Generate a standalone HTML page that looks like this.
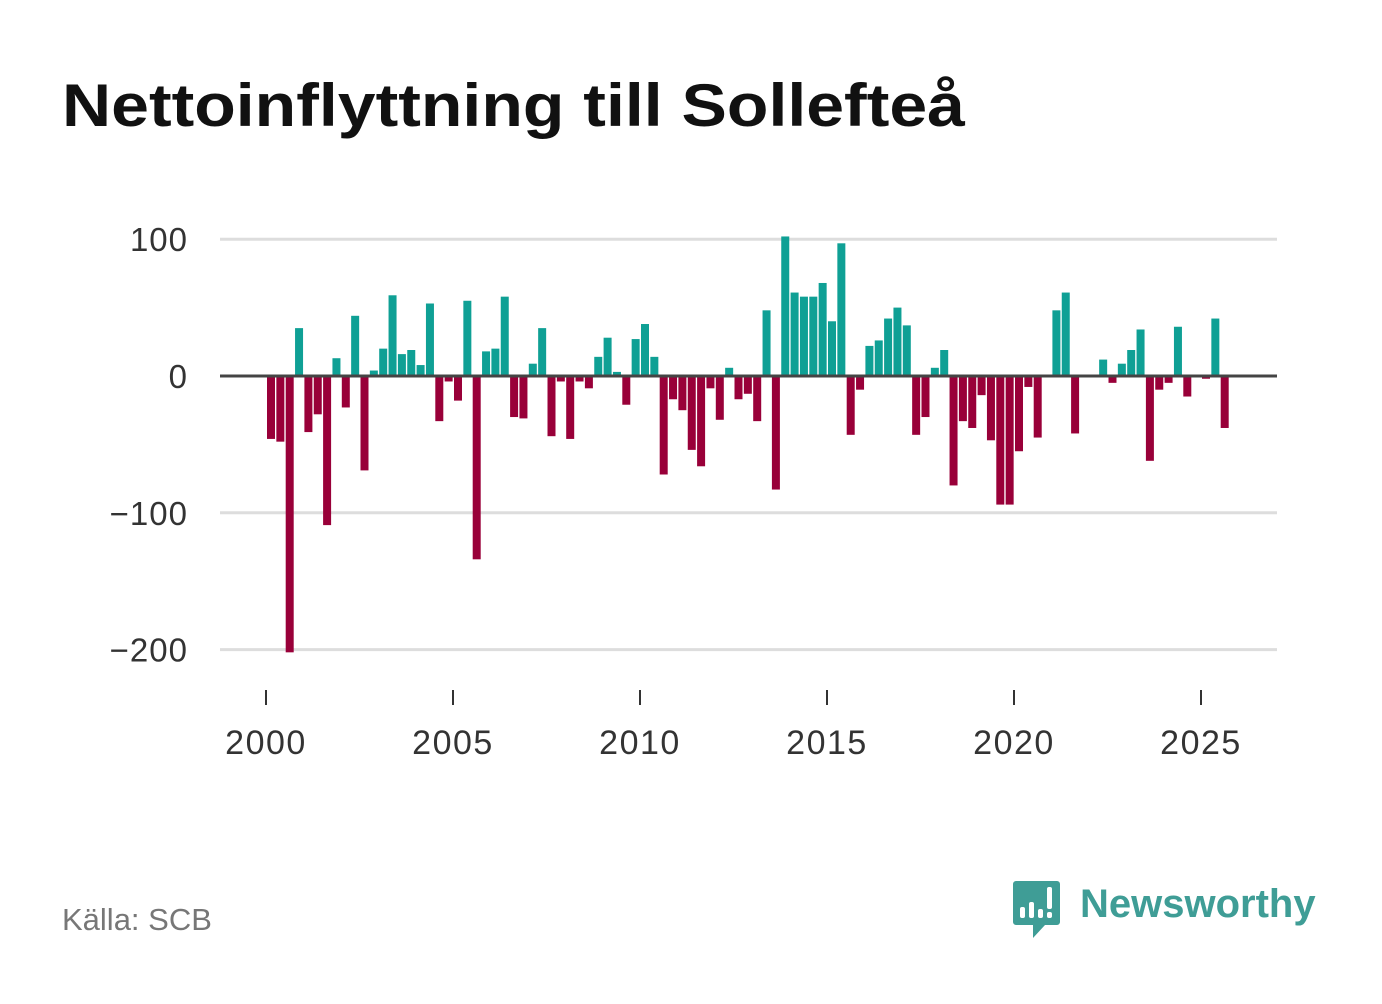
<!DOCTYPE html>
<html><head><meta charset="utf-8"><style>
body{margin:0;background:#fff;width:1382px;height:999px;overflow:hidden;font-family:"Liberation Sans",sans-serif}
</style></head><body>
<svg width="1382" height="999">
<text x="62" y="126" font-size="60" font-weight="bold" fill="#111" textLength="903" lengthAdjust="spacingAndGlyphs">Nettoinflyttning till Sollefteå</text>
<g id="grid"></g>
<g id="bars"></g>
<g id="xaxis"></g>
<text x="62" y="930" font-size="31" fill="#777">Källa: SCB</text>
<g>
<path d="M1016 881 h41 a3 3 0 0 1 3 3 v38 a3 3 0 0 1 -3 3 h-12 l-12 13 v-13 h-17 a3 3 0 0 1 -3 -3 v-38 a3 3 0 0 1 3 -3z" fill="#3f9d96"/>
<rect x="1020" y="907" width="5" height="11" rx="2" fill="#fff"/>
<rect x="1029" y="902" width="5" height="16" rx="2" fill="#fff"/>
<rect x="1038" y="909" width="5" height="9" rx="2" fill="#fff"/>
<rect x="1047" y="887" width="5" height="22" rx="2" fill="#fff"/>
<rect x="1047" y="912" width="5" height="6" rx="2" fill="#fff"/>
<text x="1080" y="917" font-size="40" font-weight="bold" fill="#3f9d96">Newsworthy</text>
</g>
</svg>
<script>
const values=[-46,-48,-202,35, -41,-28,-109,13, -23,44,-69,4, 20,59,16,19, 8,53,-33,-4,
-18,55,-134,18, 20,58,-30,-31, 9,35,-44,-4, -46,-4,-9,14, 28,3,-21,27,
38,14,-72,-17, -25,-54,-66,-9, -32,6,-17,-13, -33,48,-83,102, 61,58,58,68,
40,97,-43,-10, 22,26,42,50, 37,-43,-30,6, 19,-80,-33,-38, -14,-47,-94,-94,
-55,-8,-45,-1, 48,61,-42,0, 0,12,-5,9, 19,34,-62,-10, -5,36,-15,0, -2,42,-38];
const yTicks=[100,0,-100,-200];
const yTickLabels=["100","0","−100","−200"];
const xTicks=[2000,2005,2010,2015,2020,2025];
const NS="http://www.w3.org/2000/svg";
const y=v=>376-v*1.368;
const x=yr=>266+(yr-2000)*37.4;
function mk(t,a,p){const e=document.createElementNS(NS,t);for(const k in a)e.setAttribute(k,a[k]);p.appendChild(e);return e;}
const grid=document.getElementById('grid');
yTicks.forEach((v,i)=>{
 if(v!==0){const l=mk('line',{x1:220,x2:1277,y1:y(v),y2:y(v),stroke:'#ddd','stroke-width':3},grid);
 
 }
 const t=mk('text',{x:188,y:y(v)+12,'font-size':33,'letter-spacing':1,fill:'#333','text-anchor':'end'},grid);
 t.textContent=yTickLabels[i];
 
 
});
const bars=document.getElementById('bars');
values.forEach((v,i)=>{
 if(v===0)return;
 const bx=x(2000+i/4)+1;
 const r=mk('rect',{x:bx,width:8,y:Math.min(y(v),y(0)),height:Math.abs(y(v)-y(0)),fill:v>0?'#0fa095':'#990039'},bars);
 
 
});
const z=mk('line',{x1:220,x2:1277,y1:y(0),y2:y(0),stroke:'#444','stroke-width':3},grid.parentNode);


const xa=document.getElementById('xaxis');
xTicks.forEach(yr=>{
 const l=mk('line',{x1:x(yr),x2:x(yr),y1:690,y2:705,stroke:'#333','stroke-width':2},xa);
 
 
 const t=mk('text',{x:x(yr),y:754,'font-size':34,'letter-spacing':1.5,fill:'#333','text-anchor':'middle'},xa);
 t.textContent=yr;
 
 
});
</script>
</body></html>
